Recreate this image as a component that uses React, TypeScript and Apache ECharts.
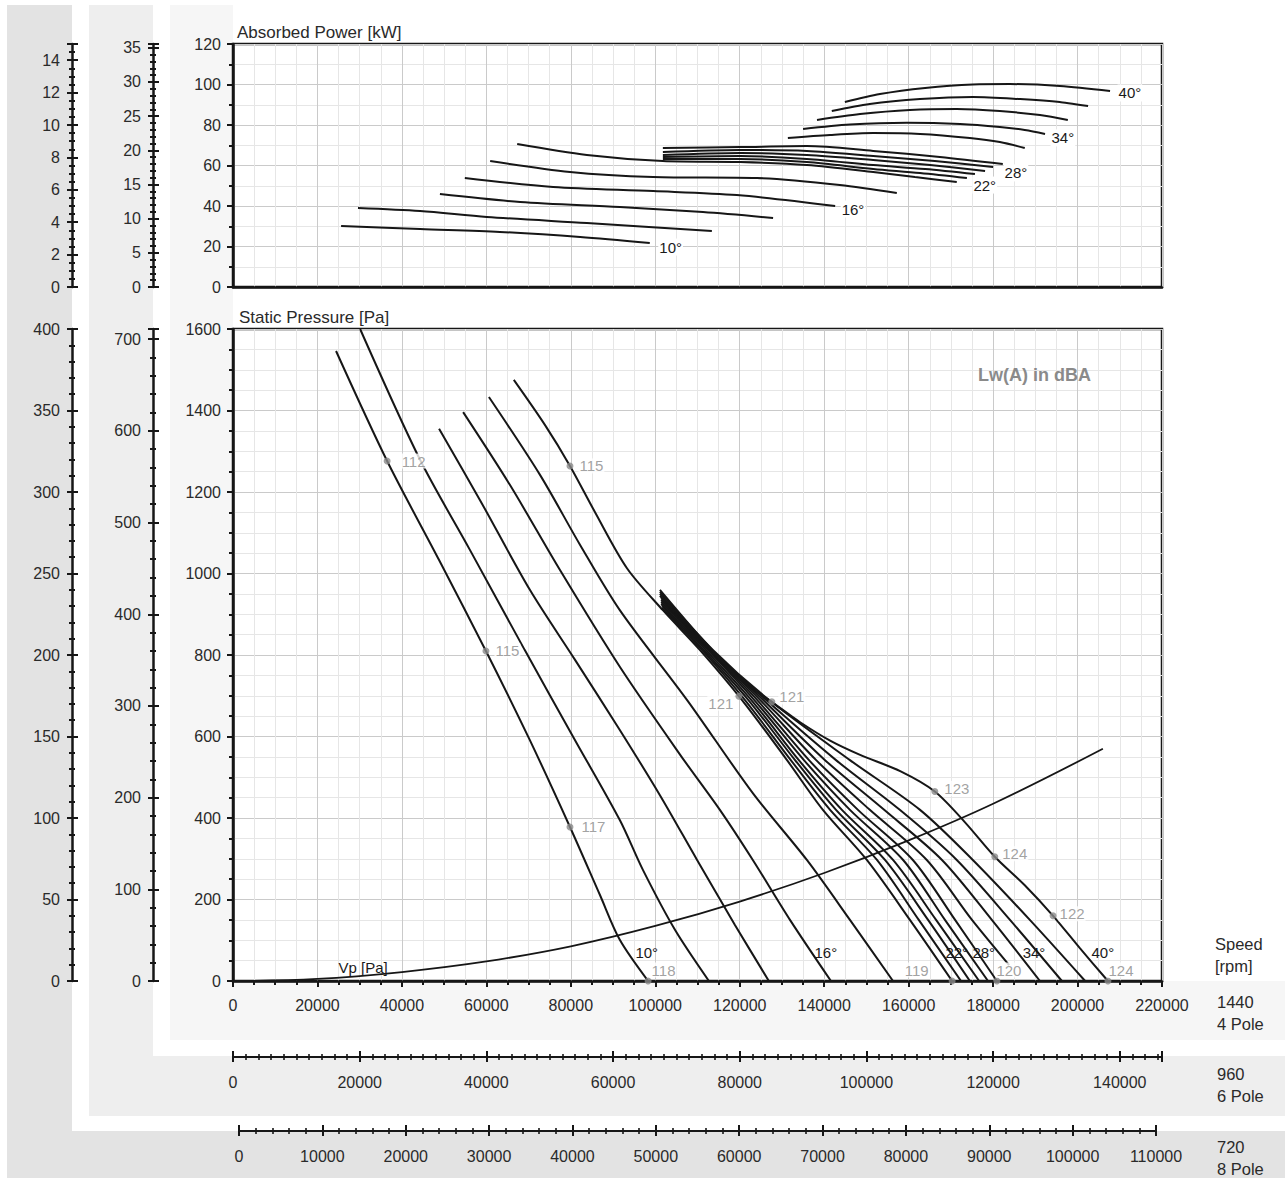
import React, { useEffect, useRef } from 'react';
import * as echarts from 'echarts';

const FONT = '"Liberation Sans", Arial, Helvetica, sans-serif';
const INK = '#161616';
const TXT = '#2a2a2a';
const MARK = '#8a8a8a';

// ---------- data ----------
const bladeAngles = [10, 12, 14, 16, 18, 20, 22, 24, 26, 28, 30, 32, 34, 36, 38, 40];

// Absorbed power [kW] vs air flow (4 pole, 1440 rpm)
const power10 = [[25600, 30.1], [44300, 28.6], [63200, 27.2], [82200, 24.7], [98700, 21.7]];
const power12 = [[29600, 39.0], [44300, 37.5], [60100, 34.6], [83800, 31.6], [113400, 27.7]];
const power14 = [[49000, 45.9], [68000, 42.0], [91600, 39.5], [111300, 37.0], [127900, 34.1]];
const power16 = [[54900, 53.8], [75800, 49.4], [99500, 47.4], [119300, 45.4], [142600, 40.0]];
const power18 = [[60900, 62.2], [79800, 56.8], [99500, 54.3], [124100, 53.8], [143700, 50.4], [157200, 46.4]];
const power20 = [[67300, 70.6], [83800, 65.2], [101800, 62.2], [120100, 61.7], [135900, 60.2], [151600, 56.8], [161500, 54.3], [171400, 51.9]];
const power22 = [[101800, 63.2], [120100, 63.2], [135900, 61.7], [151600, 58.3], [162700, 56.3], [173800, 53.8]];
const power24 = [[101800, 64.2], [120100, 64.7], [135900, 63.2], [151600, 60.2], [163900, 58.3], [175700, 55.8]];
const power26 = [[101800, 65.2], [120100, 66.2], [135900, 65.2], [151600, 62.7], [165100, 60.2], [178100, 57.3]];
const power28 = [[101800, 66.7], [120100, 67.7], [135900, 67.2], [151600, 64.7], [166200, 62.2], [180000, 59.3]];
const power30 = [[101800, 68.6], [120100, 69.1], [135900, 69.6], [151600, 67.2], [167400, 64.2], [182300, 60.7]];
const power32 = [[131400, 73.6], [141400, 75.1], [151600, 76.0], [162700, 75.6], [174500, 73.6], [181600, 71.6], [187500, 68.6]];
const power34 = [[135000, 78.0], [146100, 80.2], [159600, 81.1], [172200, 80.5], [181600, 79.0], [187500, 77.5], [192300, 75.6]];
const power36 = [[138300, 82.5], [148500, 85.4], [160300, 87.4], [171400, 87.9], [181600, 86.9], [191100, 84.9], [197700, 82.5]];
const power38 = [[141800, 86.9], [150800, 90.4], [162700, 92.8], [175200, 93.8], [186400, 92.8], [195800, 91.4], [202500, 89.4]];
const power40 = [[144900, 91.4], [153200, 95.3], [163900, 98.3], [175200, 100.0], [184000, 100.2], [195800, 99.3], [207700, 96.8]];

// Static pressure [Pa] vs air flow (4 pole, 1440 rpm)
const pressure10 = [[24400, 1546], [36500, 1276], [48800, 1033], [59900, 810], [70300, 591], [79800, 378], [86900, 211], [91600, 101], [98300, 0]];
const pressure12 = [[30100, 1600], [44300, 1279], [56100, 1058], [69100, 812], [81000, 591], [91600, 395], [97100, 272], [104700, 125], [112700, 0]];
const pressure14 = [[48800, 1355], [58500, 1180], [70300, 960], [81000, 788], [91600, 616], [101100, 456], [109900, 297], [118900, 137], [126900, 0]];
const pressure16 = [[54500, 1396], [65600, 1217], [77400, 1009], [91600, 771], [105900, 555], [115300, 420], [123100, 297], [131900, 150], [141600, 0]];
const pressure18 = [[60600, 1433], [72700, 1242], [82200, 1070], [91600, 910], [107500, 690], [123100, 461], [135900, 297], [146100, 150], [156300, 0]];
const pressure20 = [[66500, 1475], [73900, 1364], [79800, 1264], [85700, 1151], [93300, 1013], [101800, 910], [110600, 812], [120500, 690], [131200, 542], [139700, 420], [150100, 297], [160300, 150], [170300, 0]];
const pressure22 = [[101600, 915], [111100, 812], [121200, 690], [132100, 542], [141400, 420], [152500, 297], [162400, 150], [172400, 0]];
const pressure24 = [[101600, 920], [111500, 812], [122000, 690], [133100, 542], [142800, 420], [154400, 297], [164600, 150], [174500, 0]];
const pressure26 = [[101400, 925], [112000, 812], [122700, 690], [134000, 542], [144200, 420], [156300, 297], [166500, 150], [176700, 0]];
const pressure28 = [[101400, 930], [112500, 812], [123400, 690], [135200, 542], [146100, 420], [158700, 297], [168600, 150], [178800, 0]];
const pressure30 = [[101400, 935], [112700, 812], [124100, 690], [136400, 542], [148000, 420], [161000, 297], [171000, 150], [180900, 0]];
const pressure32 = [[101400, 940], [113000, 812], [124800, 690], [138100, 542], [150800, 420], [164300, 297], [175000, 150], [183800, 39]];
const pressure34 = [[101100, 945], [113200, 812], [125500, 690], [140200, 542], [154200, 420], [167900, 297], [179700, 150], [191100, 0]];
const pressure36 = [[101100, 950], [113400, 812], [126200, 690], [142800, 542], [157900, 420], [171400, 297], [184000, 150], [196300, 0]];
const pressure38 = [[101100, 955], [113700, 812], [126900, 690], [146100, 542], [162700, 420], [175200, 297], [188700, 150], [201800, 0]];
const pressure40 = [[101100, 960], [110600, 845], [120100, 740], [127600, 685], [134300, 635], [141400, 590], [148500, 555], [158000, 515], [166200, 465], [173300, 390], [180400, 305], [187500, 235], [194200, 160], [200600, 80], [207200, 0]];

// Dynamic pressure Vp [Pa]
const vpCurve = [[0, 0], [20000, 5], [40000, 22], [60000, 48], [80000, 85], [100000, 135], [120000, 195], [140000, 265], [160000, 345], [180000, 435], [206000, 570]];

// Sound power level points Lw(A) [flow, Pa, dBA]
const noisePoints = [
  [36500, 1276, 112], [59900, 810, 115], [79800, 378, 117], [98300, 0, 118],
  [79800, 1264, 115], [119800, 699, 121], [127600, 685, 121], [166200, 465, 123],
  [180400, 305, 124], [194200, 160, 122], [207200, 0, 124], [170300, 0, 119], [180900, 0, 120],
];

// speeds
const speedsRpm = [1440, 960, 720];
const poleNames = ['4 Pole', '6 Pole', '8 Pole'];

// ---------- styling / layout ----------
const powerCurves = [power10, power12, power14, power16, power18, power20, power22, power24, power26, power28, power30, power32, power34, power36, power38, power40];
const pressureCurves = [pressure10, pressure12, pressure14, pressure16, pressure18, pressure20, pressure22, pressure24, pressure26, pressure28, pressure30, pressure32, pressure34, pressure36, pressure38, pressure40];

const topLabelOffset: Record<number, number[]> = { 10: [3, 4], 16: [0, 3], 22: [0, 7], 28: [5, 6], 34: [0, 4], 40: [2, 2] };
const bottomLabelAt: Record<number, number[]> = { 10: [94000, 69], 16: [136400, 69], 22: [167400, 69], 28: [173800, 69], 34: [185700, 69], 40: [202000, 69] };
const noiseLabelPlace: [string, number[]][] = [
  ['right', [5, 0]], ['right', [0, 0]], ['right', [2, 0]], ['right', [-6, -11]],
  ['right', [0, 0]], ['left', [4, 7]], ['right', [-2, -5]], ['right', [0, -3]],
  ['right', [-2, -3]], ['right', [-3, -2]], ['right', [-9, -11]], ['left', [-14, -11]], ['right', [-10, -11]],
];

const FLOW_MAX = 220000;
const POWER_MAX = 120;
const PRESS_MAX = 1600;

function fmtMult(step: number) {
  return (v: number) => {
    const r = v / step;
    return Math.abs(r - Math.round(r)) < 1e-6 ? String(Math.round(v)) : '';
  };
}

const tickFont = { fontSize: 16, color: TXT, fontFamily: FONT };

function mainY(gridIndex: number, max: number, interval: number, minorSplit: number) {
  return {
    type: 'value', gridIndex, position: 'left', min: 0, max, interval,
    axisLine: { show: true, onZero: false, lineStyle: { color: INK, width: 2.5 } },
    axisTick: { show: true, length: 6, lineStyle: { color: INK, width: 2 } },
    minorTick: { show: true, splitNumber: minorSplit, length: 4, lineStyle: { color: INK, width: 2 } },
    axisLabel: { margin: 12, formatter: fmtMult(interval), ...tickFont },
    splitLine: { show: true, lineStyle: { color: '#cacaca', width: 1 } },
    minorSplitLine: { show: true, lineStyle: { color: '#e6e6e6', width: 1 } },
  };
}

function secY(gridIndex: number, max: number, interval: number, minorSplit: number, offset: number, inside: boolean) {
  return {
    type: 'value', gridIndex, position: 'left', offset, min: 0, max, interval,
    axisLine: { show: !inside, onZero: false, lineStyle: { color: INK, width: 2.5 } },
    axisTick: { show: true, inside, length: inside ? 6 : 5, lineStyle: { color: INK, width: 2 } },
    minorTick: { show: true, splitNumber: minorSplit, length: 3, lineStyle: { color: INK, width: 2 } },
    axisLabel: { show: !inside, margin: 12, formatter: fmtMult(interval), ...tickFont },
    splitLine: { show: false },
    minorSplitLine: { show: false },
  };
}

function secX(gridIndex: number, max: number, interval: number, minorSplit: number, offset: number, inside: boolean) {
  return {
    type: 'value', gridIndex, position: 'bottom', offset, min: 0, max, interval,
    axisLine: { show: !inside, onZero: false, lineStyle: { color: INK, width: 2 } },
    axisTick: { show: true, inside, length: inside ? 6 : 5, lineStyle: { color: INK, width: 2 } },
    minorTick: { show: true, splitNumber: minorSplit, length: 3, lineStyle: { color: INK, width: 1.6 } },
    axisLabel: { show: !inside, margin: 17, formatter: fmtMult(interval), ...tickFont },
    splitLine: { show: false },
    minorSplitLine: { show: false },
  };
}

function text(x: number, y: number, s: string, size = 16, fill = TXT, weight = 'normal') {
  return {
    type: 'text', x, y, z: 20,
    style: {
      text: s, fill, font: `${weight} ${size}px ${FONT}`,
      align: 'left', verticalAlign: 'middle', textAlign: 'left', textVerticalAlign: 'middle',
    },
  };
}

function buildOption() {
  const ratio6 = speedsRpm[1] / speedsRpm[0];
  const ratio8 = speedsRpm[2] / speedsRpm[0];

  const grids = [
    { left: 233, top: 44, width: 929, height: 243, show: true, borderColor: INK, borderWidth: 2.5, backgroundColor: 'transparent', outerBoundsMode: 'none' },
    { left: 233, top: 329, width: 929, height: 652, show: true, borderColor: INK, borderWidth: 2.5, backgroundColor: 'transparent', outerBoundsMode: 'none' },
    { left: 239, top: 1100, width: 917, height: 31, show: false, outerBoundsMode: 'none' },
  ];

  const baseX = (gridIndex: number, labels: boolean) => ({
    type: 'value', gridIndex, position: 'bottom', min: 0, max: FLOW_MAX, interval: 20000,
    axisLine: { show: true, onZero: false, lineStyle: { color: INK, width: 2.5 } },
    axisTick: { show: labels, length: 6, lineStyle: { color: INK, width: 2 } },
    minorTick: { show: labels, splitNumber: 4, length: 4, lineStyle: { color: INK, width: 2 } },
    axisLabel: { show: labels, margin: 16, formatter: fmtMult(20000), ...tickFont },
    splitLine: { show: true, lineStyle: { color: '#cacaca', width: 1 } },
    minorSplitLine: { show: true, lineStyle: { color: '#e6e6e6', width: 1 } },
  });

  const xAxis = [
    baseX(0, false),
    baseX(1, true),
    secX(1, FLOW_MAX * ratio6, 20000, 10, 76, false),
    secX(1, FLOW_MAX * ratio6, 20000, 10, 76, true),
    secX(2, FLOW_MAX * ratio8, 10000, 5, 0, false),
    secX(2, FLOW_MAX * ratio8, 10000, 5, 0, true),
  ];

  const yAxis = [
    mainY(0, POWER_MAX, 20, 2),
    secY(0, POWER_MAX * ratio6 ** 3, 5, 5, 80, false),
    secY(0, POWER_MAX * ratio6 ** 3, 5, 5, 80, true),
    secY(0, POWER_MAX * ratio8 ** 3, 2, 4, 161, false),
    secY(0, POWER_MAX * ratio8 ** 3, 2, 4, 161, true),
    mainY(1, PRESS_MAX, 200, 4),
    secY(1, PRESS_MAX * ratio6 ** 2, 100, 5, 80, false),
    secY(1, PRESS_MAX * ratio6 ** 2, 100, 5, 80, true),
    secY(1, PRESS_MAX * ratio8 ** 2, 50, 5, 161, false),
    secY(1, PRESS_MAX * ratio8 ** 2, 50, 5, 161, true),
    { type: 'value', gridIndex: 2, show: false, min: 0, max: 1 },
  ];

  const lineBase = {
    type: 'line', showSymbol: false, symbol: 'none', smooth: 0.3,
    lineStyle: { color: INK, width: 2 }, silent: true, z: 3, animation: false,
  };

  const angleLabel = (a: number, offset: number[], bg: boolean) => ({
    show: true, position: 'right', distance: 5, offset, formatter: `${a}°`,
    color: '#1a1a1a', fontSize: 15, fontFamily: FONT,
    backgroundColor: bg ? '#fff' : 'transparent', padding: bg ? [1, 1] : 0,
  });

  const topSeries = bladeAngles.map((a, i) => {
    const d = powerCurves[i];
    const s: any = { ...lineBase, name: `P ${a}°`, xAxisIndex: 0, yAxisIndex: 0, data: d };
    if (topLabelOffset[a]) {
      s.markPoint = {
        silent: true, symbol: 'circle', symbolSize: 1, itemStyle: { color: 'rgba(0,0,0,0)' },
        label: angleLabel(a, topLabelOffset[a], true),
        data: [{ coord: d[d.length - 1] }],
      };
    }
    return s;
  });

  const bottomSeries = bladeAngles.map((a, i) => {
    const d = pressureCurves[i];
    const s: any = { ...lineBase, name: `Ps ${a}°`, xAxisIndex: 1, yAxisIndex: 5, data: d };
    if (bottomLabelAt[a]) {
      s.markPoint = {
        silent: true, symbol: 'circle', symbolSize: 1, itemStyle: { color: 'rgba(0,0,0,0)' },
        label: angleLabel(a, [0, 0], false),
        data: [{ coord: bottomLabelAt[a] }],
      };
    }
    return s;
  });

  const vpSeries: any = {
    ...lineBase, name: 'Vp', xAxisIndex: 1, yAxisIndex: 5, data: vpCurve, smooth: 0.4,
    lineStyle: { color: INK, width: 1.8 },
    markPoint: {
      silent: true, symbol: 'circle', symbolSize: 1, itemStyle: { color: 'rgba(0,0,0,0)' },
      label: { show: true, position: 'right', distance: 5, formatter: 'Vp [Pa]', color: '#1a1a1a', fontSize: 15, fontFamily: FONT },
      data: [{ coord: [23700, 34] }],
    },
  };

  const noiseSeries = {
    type: 'scatter', name: 'Lw(A)', xAxisIndex: 1, yAxisIndex: 5, z: 6, silent: true,
    symbol: 'circle', symbolSize: 7, itemStyle: { color: MARK },
    data: noisePoints.map((p, i) => ({
      value: p,
      label: { position: noiseLabelPlace[i][0], offset: noiseLabelPlace[i][1] },
    })),
    label: {
      show: true, distance: 5, formatter: (p: any) => String(p.value[2]),
      color: MARK, fontSize: 15, fontFamily: FONT, backgroundColor: '#fff', padding: [0, 1],
    },
  };

  const rect = (x: number, y: number, w: number, h: number, fill: string) => ({
    type: 'rect', z: -10, silent: true, shape: { x, y, width: w, height: h }, style: { fill },
  });

  const graphic = [
    rect(7, 5, 65, 1173, '#e3e3e3'),
    rect(7, 1131, 1278, 47, '#e3e3e3'),
    rect(89, 5, 64, 1111, '#eeeeee'),
    rect(89, 1056, 1196, 60, '#eeeeee'),
    rect(170, 5, 63, 1035, '#f6f6f6'),
    rect(170, 981, 1115, 59, '#f6f6f6'),
    text(237, 32, 'Absorbed Power [kW]', 17),
    text(239, 317, 'Static Pressure [Pa]', 17),
    text(978, 375, 'Lw(A) in dBA', 18, '#8a8a8a', 'bold'),
    text(1215, 944, 'Speed', 16.5),
    text(1215, 966, '[rpm]', 16.5),
    text(1217, 1002, String(speedsRpm[0]), 16.5),
    text(1217, 1024, poleNames[0], 16.5),
    text(1217, 1074, String(speedsRpm[1]), 16.5),
    text(1217, 1096, poleNames[1], 16.5),
    text(1217, 1147, String(speedsRpm[2]), 16.5),
    text(1217, 1169, poleNames[2], 16.5),
  ];

  return {
    animation: false,
    backgroundColor: '#ffffff',
    textStyle: { fontFamily: FONT },
    grid: grids,
    xAxis,
    yAxis,
    graphic,
    series: [...topSeries, ...bottomSeries, vpSeries, noiseSeries],
  };
}

export default function App() {
  const ref = useRef<HTMLDivElement>(null);
  useEffect(() => {
    if (!ref.current) return;
    const chart = echarts.init(ref.current, null, { renderer: 'svg' });
    chart.setOption(buildOption() as any);
    return () => chart.dispose();
  }, []);
  return (
    <div
      ref={ref}
      style={{ position: 'absolute', left: 0, top: 0, width: 1285, height: 1178, background: '#fff' }}
    />
  );
}
